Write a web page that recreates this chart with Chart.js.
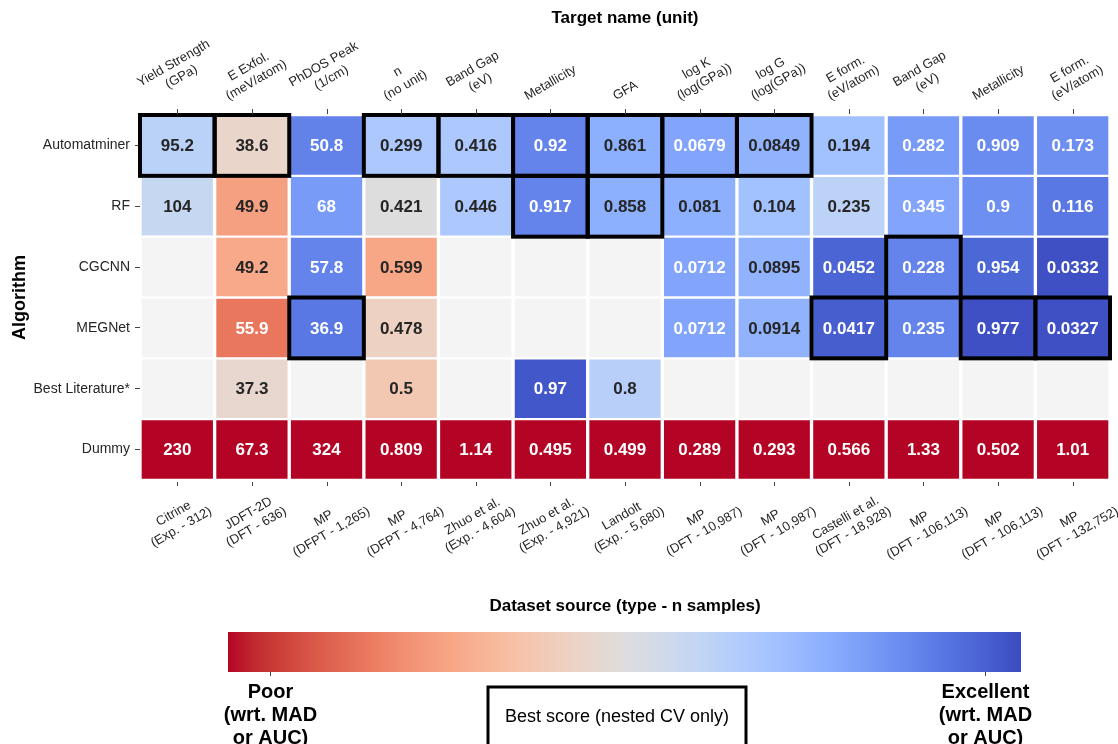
<!DOCTYPE html>
<html>
<head>
<meta charset="utf-8">
<script src="https://cdn.jsdelivr.net/npm/chart.js@4.4.1/dist/chart.umd.min.js"></script>
<style>
  html, body { margin: 0; padding: 0; background: #fff; }
  canvas { display: block; }
</style>
</head>
<body>
<canvas id="heatmap" width="1118" height="744"></canvas>
<script>
const algorithms = ["Automatminer", "RF", "CGCNN", "MEGNet", "Best Literature*", "Dummy"];

const targets = [
  ["Yield Strength", "(GPa)"], ["E Exfol.", "(meV/atom)"], ["PhDOS Peak", "(1/cm)"],
  ["n", "(no unit)"], ["Band Gap", "(eV)"], ["Metallicity"], ["GFA"],
  ["log K", "(log(GPa))"], ["log G", "(log(GPa))"], ["E form.", "(eV/atom)"],
  ["Band Gap", "(eV)"], ["Metallicity"], ["E form.", "(eV/atom)"],
];

const sources = [
  ["Citrine", "(Exp. - 312)"], ["JDFT-2D", "(DFT - 636)"], ["MP", "(DFPT - 1,265)"],
  ["MP", "(DFPT - 4,764)"], ["Zhuo et al.", "(Exp. - 4,604)"], ["Zhuo et al.", "(Exp. - 4,921)"],
  ["Landolt", "(Exp. - 5,680)"], ["MP", "(DFT - 10,987)"], ["MP", "(DFT - 10,987)"],
  ["Castelli et al.", "(DFT - 18,928)"], ["MP", "(DFT - 106,113)"], ["MP", "(DFT - 106,113)"],
  ["MP", "(DFT - 132,752)"],
];

// reported errors / scores
const automatminer = [95.2, 38.6, 50.8, 0.299, 0.416, 0.92, 0.861, 0.0679, 0.0849, 0.194, 0.282, 0.909, 0.173];
const rf = [104, 49.9, 68, 0.421, 0.446, 0.917, 0.858, 0.081, 0.104, 0.235, 0.345, 0.9, 0.116];
const cgcnn = [null, 49.2, 57.8, 0.599, null, null, null, 0.0712, 0.0895, 0.0452, 0.228, 0.954, 0.0332];
const megnet = [null, 55.9, 36.9, 0.478, null, null, null, 0.0712, 0.0914, 0.0417, 0.235, 0.977, 0.0327];
const bestLiterature = [null, 37.3, null, 0.5, null, 0.97, 0.8, null, null, null, null, null, null];
const dummy = [230, 67.3, 324, 0.809, 1.14, 0.495, 0.499, 0.289, 0.293, 0.566, 1.33, 0.502, 1.01];

// relative quality, 0 = poor, 1 = excellent
const automatminerScore = [0.62, 0.45, 0.875, 0.66, 0.66, 0.87, 0.75, 0.78, 0.74, 0.69, 0.81, 0.85, 0.84];
const rfScore = [0.58, 0.265, 0.81, 0.5, 0.66, 0.87, 0.75, 0.75, 0.69, 0.61, 0.78, 0.84, 0.9];
const cgcnnScore = [null, 0.29, 0.87, 0.28, null, null, null, 0.78, 0.74, 0.945, 0.87, 0.94, 0.99];
const megnetScore = [null, 0.17, 0.9, 0.43, null, null, null, 0.78, 0.74, 0.96, 0.87, 0.99, 0.99];
const bestLiteratureScore = [null, 0.46, null, 0.39, null, 0.975, 0.625, null, null, null, null, null, null];
const dummyScore = [0, 0, 0, 0, 0, 0, 0, 0, 0, 0, 0, 0, 0];

// columns where each algorithm holds the best score (nested CV only)
const bestAutomatminer = [0, 1, 3, 4, 5, 6, 7, 8];
const bestRf = [5, 6];
const bestCgcnn = [10];
const bestMegnet = [2, 9, 11, 12];
const bestBestLiterature = [];
const bestDummy = [];

const colorbarTicks = [0.053, 0.955];
const colorbarLabels = [["Poor", "(wrt. MAD", "or AUC)"], ["Excellent", "(wrt. MAD", "or AUC)"]];

const values = [automatminer, rf, cgcnn, megnet, bestLiterature, dummy];
const scores = [automatminerScore, rfScore, cgcnnScore, megnetScore, bestLiteratureScore, dummyScore];
const bests = [bestAutomatminer, bestRf, bestCgcnn, bestMegnet, bestBestLiterature, bestDummy];

// coolwarm (Moreland) table, 33 entries from blue to red
const coolwarm = [
  [59,76,192],[68,90,204],[77,104,215],[87,117,225],[98,130,234],[108,142,241],[119,154,247],[130,165,251],
  [141,176,254],[152,185,255],[163,194,255],[174,201,253],[184,208,249],[194,213,244],[204,217,238],[213,219,230],
  [221,221,221],[229,216,209],[236,211,197],[241,204,184],[245,196,172],[247,187,159],[247,177,147],[247,166,134],
  [244,154,123],[241,141,112],[236,127,99],[229,112,89],[222,96,77],[213,80,69],[203,62,56],[192,40,47],[180,4,38],
];

function cmap(score) {
  const p = (1 - score) * (coolwarm.length - 1);
  const i = Math.min(Math.floor(p), coolwarm.length - 2);
  const f = p - i;
  return coolwarm[i].map((v, k) => Math.round(v + (coolwarm[i + 1][k] - v) * f));
}

function rgb(c) { return "rgb(" + c.join(",") + ")"; }

function textColor(c) {
  const lin = c.map(v => { v /= 255; return v <= 0.03928 ? v / 12.92 : Math.pow((v + 0.055) / 1.055, 2.4); });
  const lum = 0.2126 * lin[0] + 0.7152 * lin[1] + 0.0722 * lin[2];
  return lum > 0.408 ? "#262626" : "#ffffff";
}

function fmt(v) { return String(Number(v.toPrecision(3))); }

const EMPTY = "#f4f4f4";
const FONT = "'Liberation Sans', Arial, Helvetica, sans-serif";

// one stacked dataset per target column, one bar per algorithm row
const datasets = targets.map((t, c) => ({
  label: t.join(" "),
  data: algorithms.map(() => 1),
  backgroundColor: algorithms.map((a, r) => scores[r][c] === null ? EMPTY : rgb(cmap(scores[r][c]))),
  borderColor: "#ffffff",
  borderWidth: { left: 2, right: 2, top: 1.5, bottom: 1.5 },
  borderSkipped: false,
  barPercentage: 1,
  categoryPercentage: 1,
}));

function drawRotated(ctx, lines, px, py, anchor) {
  const lh = 15.6;
  const a = Math.PI / 6;
  const w = Math.max(...lines.map(l => ctx.measureText(l).width));
  const h = lines.length * lh;
  const bh = w * Math.sin(a) + h * Math.cos(a);
  const cy = anchor === "bottom" ? py - bh / 2 : py + bh / 2;
  ctx.save();
  ctx.translate(px, cy);
  ctx.rotate(-a);
  ctx.textAlign = "center";
  ctx.textBaseline = "middle";
  lines.forEach((l, i) => ctx.fillText(l, 0, (i - (lines.length - 1) / 2) * lh));
  ctx.restore();
}

const heatmapDecor = {
  id: "heatmapDecor",
  afterDatasetsDraw(chart) {
    const { ctx, chartArea } = chart;
    const x = chart.scales.x, y = chart.scales.y;
    const rowH = Math.abs(y.getPixelForValue(1) - y.getPixelForValue(0));
    ctx.save();

    // cell values
    ctx.font = "bold 17px " + FONT;
    ctx.textAlign = "center";
    ctx.textBaseline = "middle";
    values.forEach((row, r) => {
      row.forEach((v, c) => {
        if (v === null) return;
        const cx = (x.getPixelForValue(c) + x.getPixelForValue(c + 1)) / 2;
        ctx.fillStyle = textColor(cmap(scores[r][c]));
        ctx.fillText(fmt(v), cx, y.getPixelForValue(r) + 1);
      });
    });

    // best score frames
    ctx.strokeStyle = "#000";
    ctx.lineWidth = 4;
    bests.forEach((cols, r) => {
      cols.forEach(c => {
        const x0 = x.getPixelForValue(c), x1 = x.getPixelForValue(c + 1);
        const cy = y.getPixelForValue(r);
        ctx.strokeRect(x0, cy - rowH / 2, x1 - x0, rowH);
      });
    });

    // column ticks and labels
    ctx.strokeStyle = "#444";
    ctx.lineWidth = 1;
    ctx.fillStyle = "#262626";
    ctx.font = "13px " + FONT;
    targets.forEach((t, c) => {
      const cx = Math.round((x.getPixelForValue(c) + x.getPixelForValue(c + 1)) / 2) + 0.5;
      ctx.beginPath();
      ctx.moveTo(cx, chartArea.top - 6); ctx.lineTo(cx, chartArea.top - 1);
      ctx.moveTo(cx, chartArea.bottom + 2); ctx.lineTo(cx, chartArea.bottom + 6);
      ctx.stroke();
      drawRotated(ctx, t, cx, chartArea.top - 11, "bottom");
      drawRotated(ctx, sources[c], cx, chartArea.bottom + 10, "top");
    });

    // axis titles
    const midX = (chartArea.left + chartArea.right) / 2;
    ctx.fillStyle = "#000";
    ctx.font = "bold 17px " + FONT;
    ctx.textAlign = "center";
    ctx.textBaseline = "middle";
    ctx.fillText("Target name (unit)", midX, 18);
    ctx.fillText("Dataset source (type - n samples)", midX, 606);

    // colour bar
    const cbL = 228, cbR = 1021, cbT = 632, cbB = 672;
    const grad = ctx.createLinearGradient(cbL, 0, cbR, 0);
    coolwarm.forEach((c, i) => grad.addColorStop(1 - i / (coolwarm.length - 1), rgb(c)));
    ctx.fillStyle = grad;
    ctx.fillRect(cbL, cbT, cbR - cbL, cbB - cbT);
    ctx.strokeStyle = "#444";
    ctx.lineWidth = 1;
    ctx.font = "bold 20px " + FONT;
    ctx.fillStyle = "#000";
    colorbarTicks.forEach((t, i) => {
      const tx = Math.round(cbL + t * (cbR - cbL)) + 0.5;
      ctx.beginPath();
      ctx.moveTo(tx, cbB); ctx.lineTo(tx, cbB + 4);
      ctx.stroke();
      colorbarLabels[i].forEach((l, k) => ctx.fillText(l, tx, 692 + k * 23));
    });

    // legend box
    ctx.strokeStyle = "#000";
    ctx.lineWidth = 3;
    ctx.strokeRect(488, 687, 258, 62);
    ctx.font = "18px " + FONT;
    ctx.fillText("Best score (nested CV only)", 617, 717);

    ctx.restore();
  },
};

new Chart(document.getElementById("heatmap"), {
  type: "bar",
  data: {
    labels: algorithms,
    datasets: datasets,
  },
  options: {
    indexAxis: "y",
    responsive: false,
    animation: false,
    plugins: {
      legend: { display: false },
      tooltip: { enabled: false },
    },
    scales: {
      x: {
        stacked: true,
        min: 0,
        max: targets.length,
        display: false,
      },
      y: {
        stacked: true,
        grid: {
          offset: false,
          drawOnChartArea: false,
          drawTicks: true,
          tickLength: 5,
          color: "#444",
        },
        border: { display: false },
        ticks: {
          color: "#262626",
          padding: 5,
          font: { family: FONT, size: 14 },
        },
        title: {
          display: true,
          text: "Algorithm",
          color: "#000",
          font: { family: FONT, size: 18, weight: "bold" },
          padding: { top: 9, bottom: 0 },
        },
        afterFit(scale) {
          scale.width = 140;
        },
      },
    },
    layout: {
      padding: { left: 0, right: 8, top: 115, bottom: 264 },
    },
  },
  plugins: [heatmapDecor],
});
</script>
</body>
</html>
